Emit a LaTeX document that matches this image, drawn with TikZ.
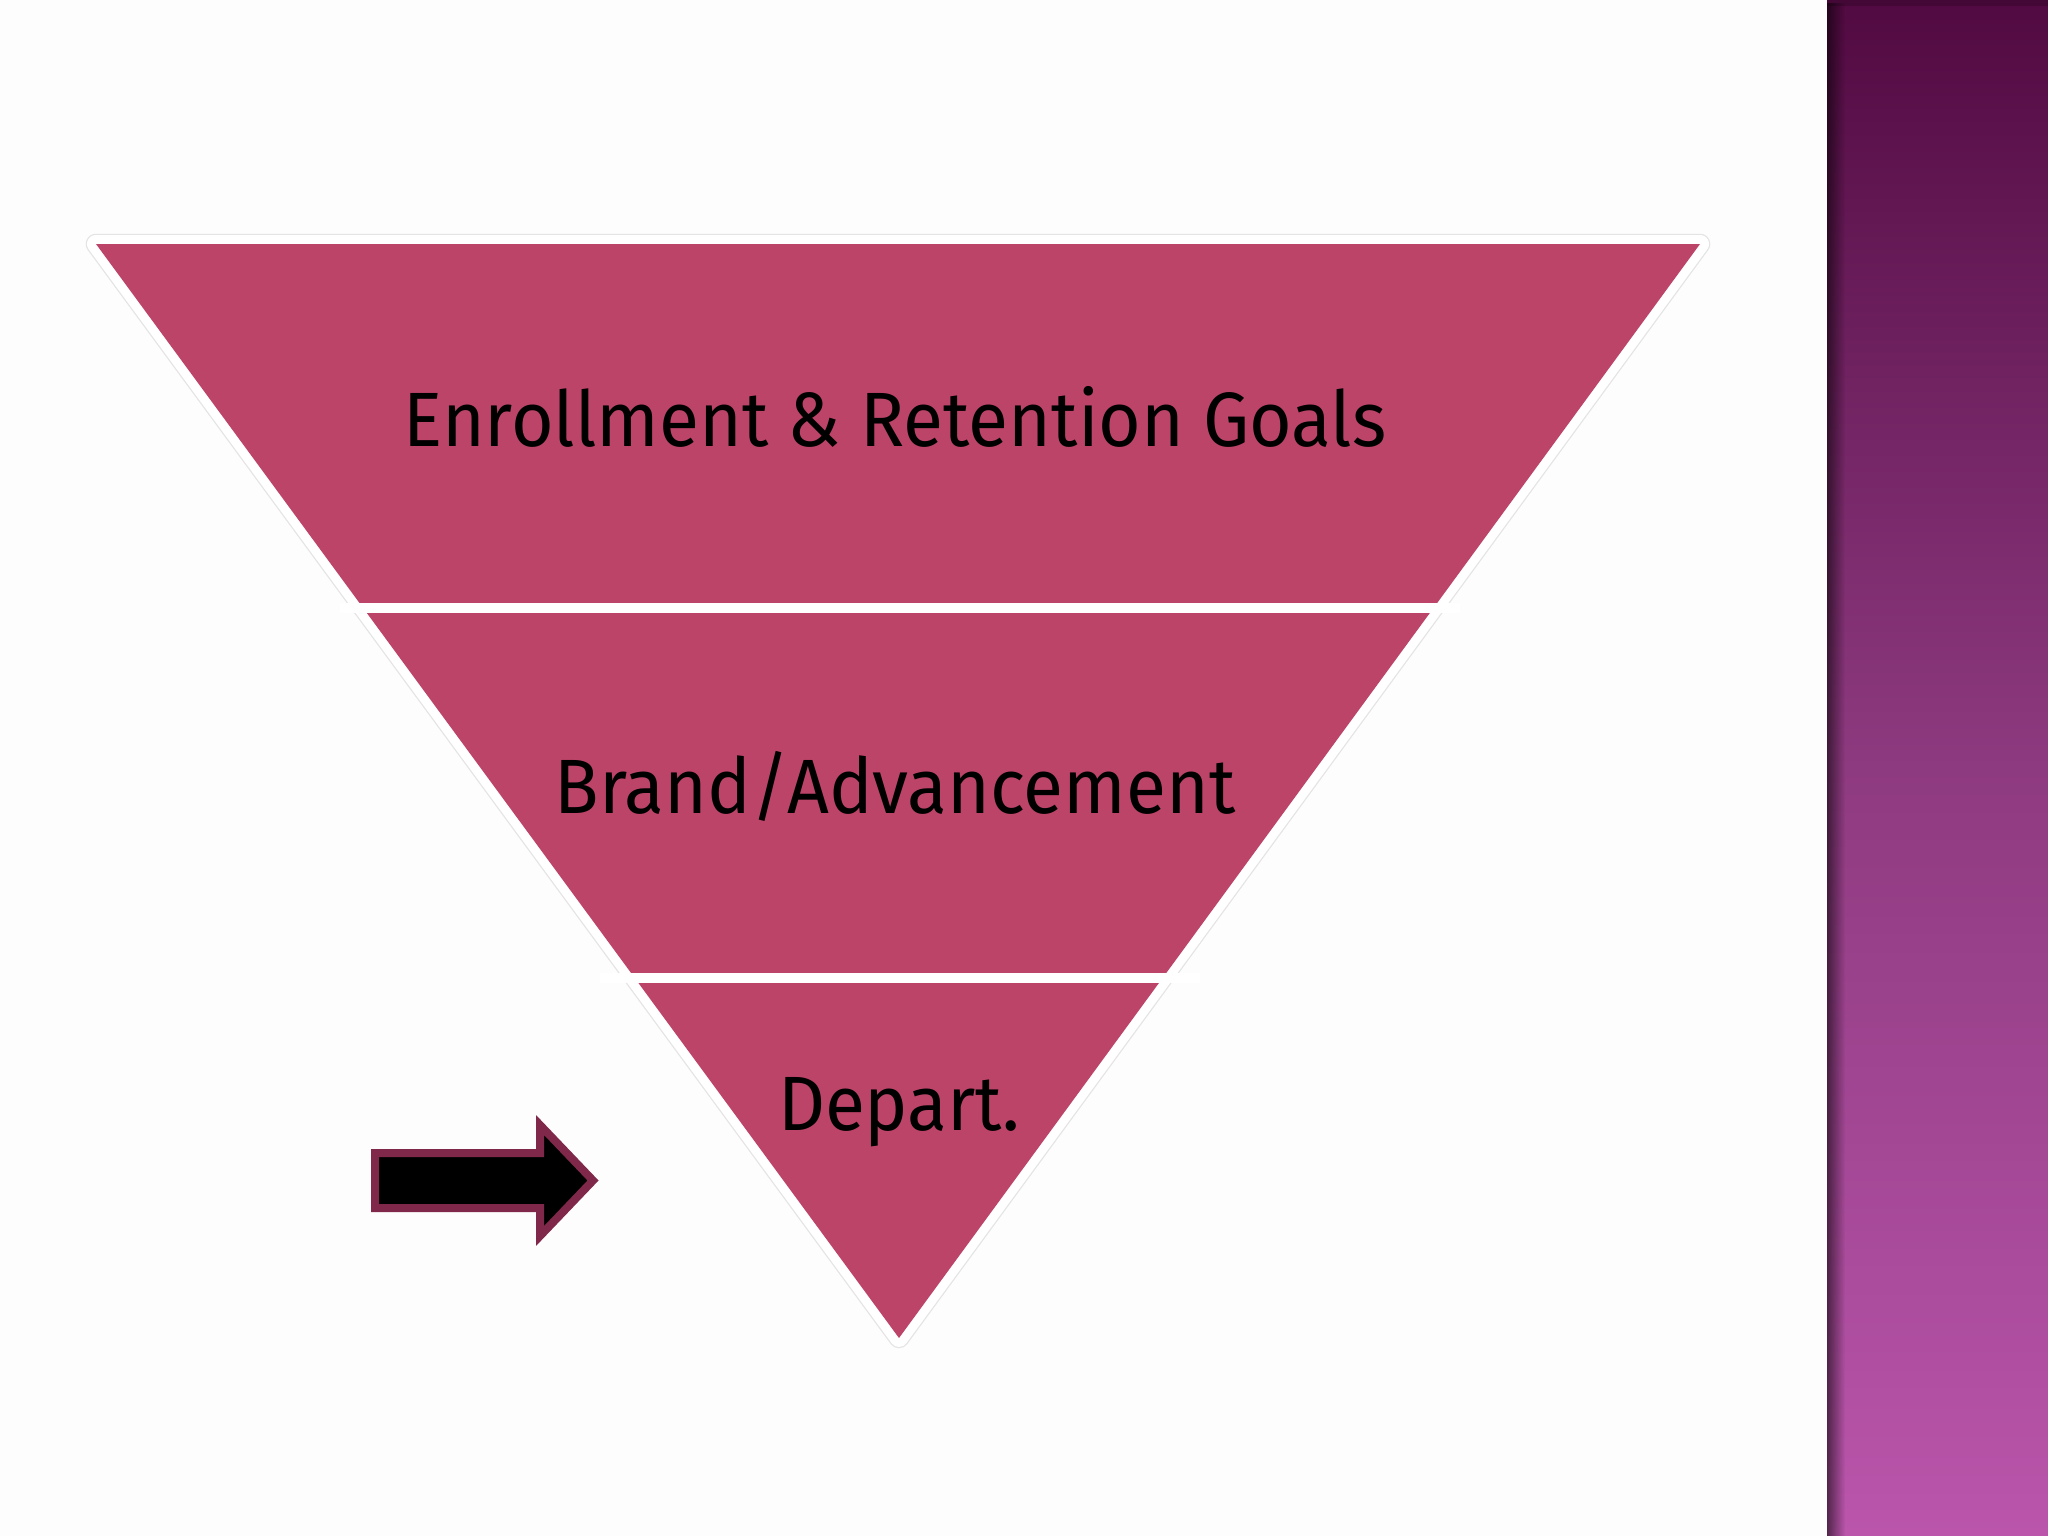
\documentclass[tikz,border=0pt]{standalone}
\usepackage{fontspec}
\setmainfont[FakeStretch=0.95]{Fira Sans}
\usetikzlibrary{fadings}
\definecolor{bandpink}{HTML}{BC4469}
\definecolor{arrowrim}{HTML}{80284A}
\definecolor{bartop}{HTML}{520A42}
\definecolor{barmid}{HTML}{8E3A80}
\definecolor{barbot}{HTML}{BA55AB}
\definecolor{rimgray}{HTML}{E4E4E4}
\tikzset{
  bandlabel/.style={anchor=base, inner sep=0pt, text=black, font=\fontsize{77}{90}\selectfont},
  septline/.style={white, line width=10pt},
}
\begin{document}
\begin{tikzpicture}[x=1pt,y=-1pt]
\useasboundingbox (0,0) rectangle (2048,1536);
\fill[white!98!black!40!white] (0,0) rectangle (2048,1536);
% purple side bar
\shade[top color=bartop, bottom color=barbot, middle color=barmid] (1827,0) rectangle (2048,1536);
\fill[bartop!70!black, opacity=0.6] (1827,0) rectangle (2048,6);
\fill[black, path fading=east, fill opacity=0.55] (1827,0) rectangle (1845,1536);
% triangle coordinates
\coordinate (tl) at (96,244);
\coordinate (tr) at (1700,244);
\coordinate (ap) at (899,1338);
% rim
\draw[rimgray, line width=20.5pt, line join=round] (tl) -- (tr) -- (ap) -- cycle;
\draw[white, line width=18pt, line join=round] (tl) -- (tr) -- (ap) -- cycle;
\fill[bandpink] (tl) -- (tr) -- (ap) -- cycle;
% separators
\coordinate (s1l) at (340,608);
\coordinate (s1r) at (1460,608);
\coordinate (s2l) at (600,978);
\coordinate (s2r) at (1200,978);
\draw[septline] (s1l) -- (s1r);
\draw[septline] (s2l) -- (s2r);
% labels
\node[bandlabel] (goals) at (895,446) {Enrollment \& Retention Goals};
\node[bandlabel] (brand) at (895,813) {Brand/Advancement};
\node[bandlabel] (depart) at (899,1130) {Depart.};
% arrow
\draw[arrowrim, fill=black, line width=8pt, miter limit=10]
  (375,1153) -- (540,1153) -- (540,1125) -- (593,1180.5) -- (540,1236) -- (540,1208) -- (375,1208) -- cycle;
\end{tikzpicture}
\end{document}
